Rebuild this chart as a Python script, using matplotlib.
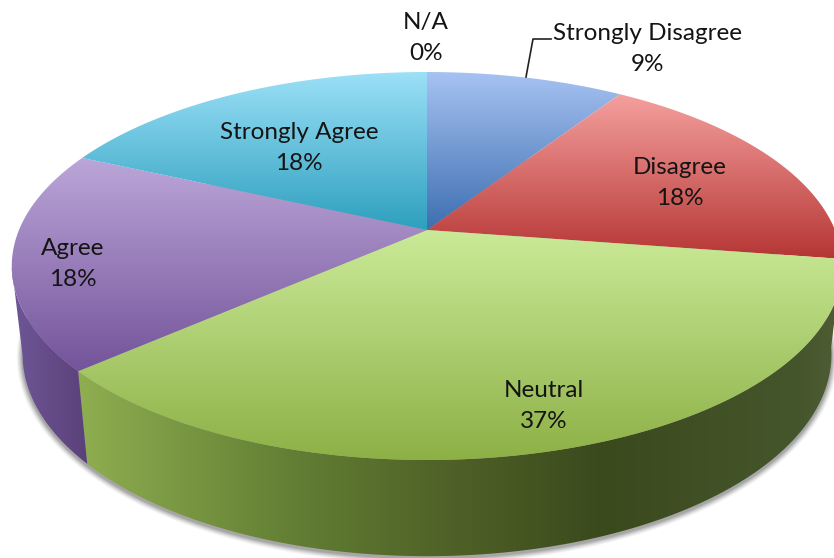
import numpy as np
import matplotlib
matplotlib.use('Agg')
import matplotlib.pyplot as plt
from matplotlib.colors import to_rgb
from matplotlib.patches import Polygon

labels = ['Strongly Disagree', 'Disagree', 'Neutral', 'Agree', 'Strongly Agree', 'N/A']
# slice sizes as measured on the picture, printed labels are the rounded ones
values = [9.2, 18.2, 36.1, 18.3, 18.2, 0]
pct_labels = ['9%', '18%', '37%', '18%', '18%', '0%']

# face gradients, top to bottom
face_colors = [('#a6c2f2', '#3d6eb0'), ('#f4a09e', '#b53533'), ('#cbea98', '#8db046'),
               ('#bba6d8', '#73539a'), ('#9be0f7', '#2d9fbe'), ('#9be0f7', '#2d9fbe')]
label_pos = [(648, 49), (680, 183), (544, 406), (73, 264), (299, 148), (426, 38)]

W, H = 834, 558
CX, CY = 427, 230
A, B, K = 408, 187.3, 0.1856  # perspective of the top disc
SX, SY, CY2 = 0.974, 1.04, 317  # bottom rim relative to the top rim


def rim(a0, a1, n=200):
    # angles in degrees, clockwise from 12 o'clock
    t = np.radians(np.linspace(a0, a1, n))
    u, v = np.sin(t), -np.cos(t)
    w = 1 - K * v
    return CX + A * u / w, CY + B * v / w


def low(x, y):
    return CX + SX * (x - CX), CY2 + SY * (y - CY)


def gradient(ax, pts, stops, horizontal=False):
    # stops: list of (pixel position, colour)
    pos = np.arange(W if horizontal else H)
    xs = [s[0] for s in stops]
    rgb = np.array([to_rgb(s[1]) for s in stops])
    img = np.stack([np.interp(pos, xs, rgb[:, i]) for i in range(3)], axis=-1)
    img = img[np.newaxis, :, :] if horizontal else img[:, np.newaxis, :]
    im = ax.imshow(img, extent=(0, W, H, 0), aspect='auto', interpolation='bilinear', zorder=3)
    patch = Polygon(pts, closed=True, transform=ax.transData)
    im.set_clip_path(patch)


fig = plt.figure(figsize=(8.34, 5.58), dpi=100)
ax = fig.add_axes([0, 0, 1, 1])

# soft shadow under the pie
xr, yr = rim(0, 360, 400)
xb, yb = low(xr, yr)
for grow, alpha in [(6, 0.05), (5, 0.07), (4, 0.09), (3, 0.12), (2, 0.15), (1, 0.18)]:
    sx = CX + (xb - CX) * (1 + grow / 415)
    sy = 322 + (yb - 322) * (1 + grow / 235)
    ax.fill(sx, sy + 2, color='#555555', alpha=alpha, lw=0, zorder=1)

angles = np.cumsum([0] + values) * 3.6

# side walls, only the parts facing the viewer
green_wall = [(79, '#8fae50'), (300, '#617d33'), (450, '#4f6127'), (600, '#3b4a1d'),
              (800, '#46562c'), (834, '#4e5c33')]
purple_wall = [(10, '#6f5797'), (88, '#5b417a')]
x1, y1 = rim(angles[2], angles[3])
x2, y2 = low(x1, y1)
gradient(ax, np.column_stack([np.r_[x1, x2[::-1]], np.r_[y1, y2[::-1]]]), green_wall, True)
# 259 deg is where the disc is widest, so the wall edge runs along the outline
x1, y1 = rim(angles[3], 259)
x2, y2 = low(x1, y1)
gradient(ax, np.column_stack([np.r_[x1, x2[::-1]], np.r_[y1, y2[::-1]]]), purple_wall, True)

# top faces
for i in range(len(values)):
    if values[i] == 0:
        continue
    x, y = rim(angles[i], angles[i + 1])
    x = np.r_[CX, x]
    y = np.r_[CY, y]
    gradient(ax, np.column_stack([x, y]), [(y.min(), face_colors[i][0]), (y.max(), face_colors[i][1])])

# leader line
ax.plot([526, 533, 551], [77, 39, 39], color='#222222', lw=1.2, zorder=4)

for i in range(len(labels)):
    ax.text(label_pos[i][0], label_pos[i][1], labels[i] + '\n' + pct_labels[i],
            ha='center', va='center', fontsize=17.5, family='Lato', color='#141414',
            linespacing=1.6, zorder=5)

ax.set_xlim(0, W)
ax.set_ylim(H, 0)
ax.axis('off')
fig.savefig('out.png', dpi=100)
